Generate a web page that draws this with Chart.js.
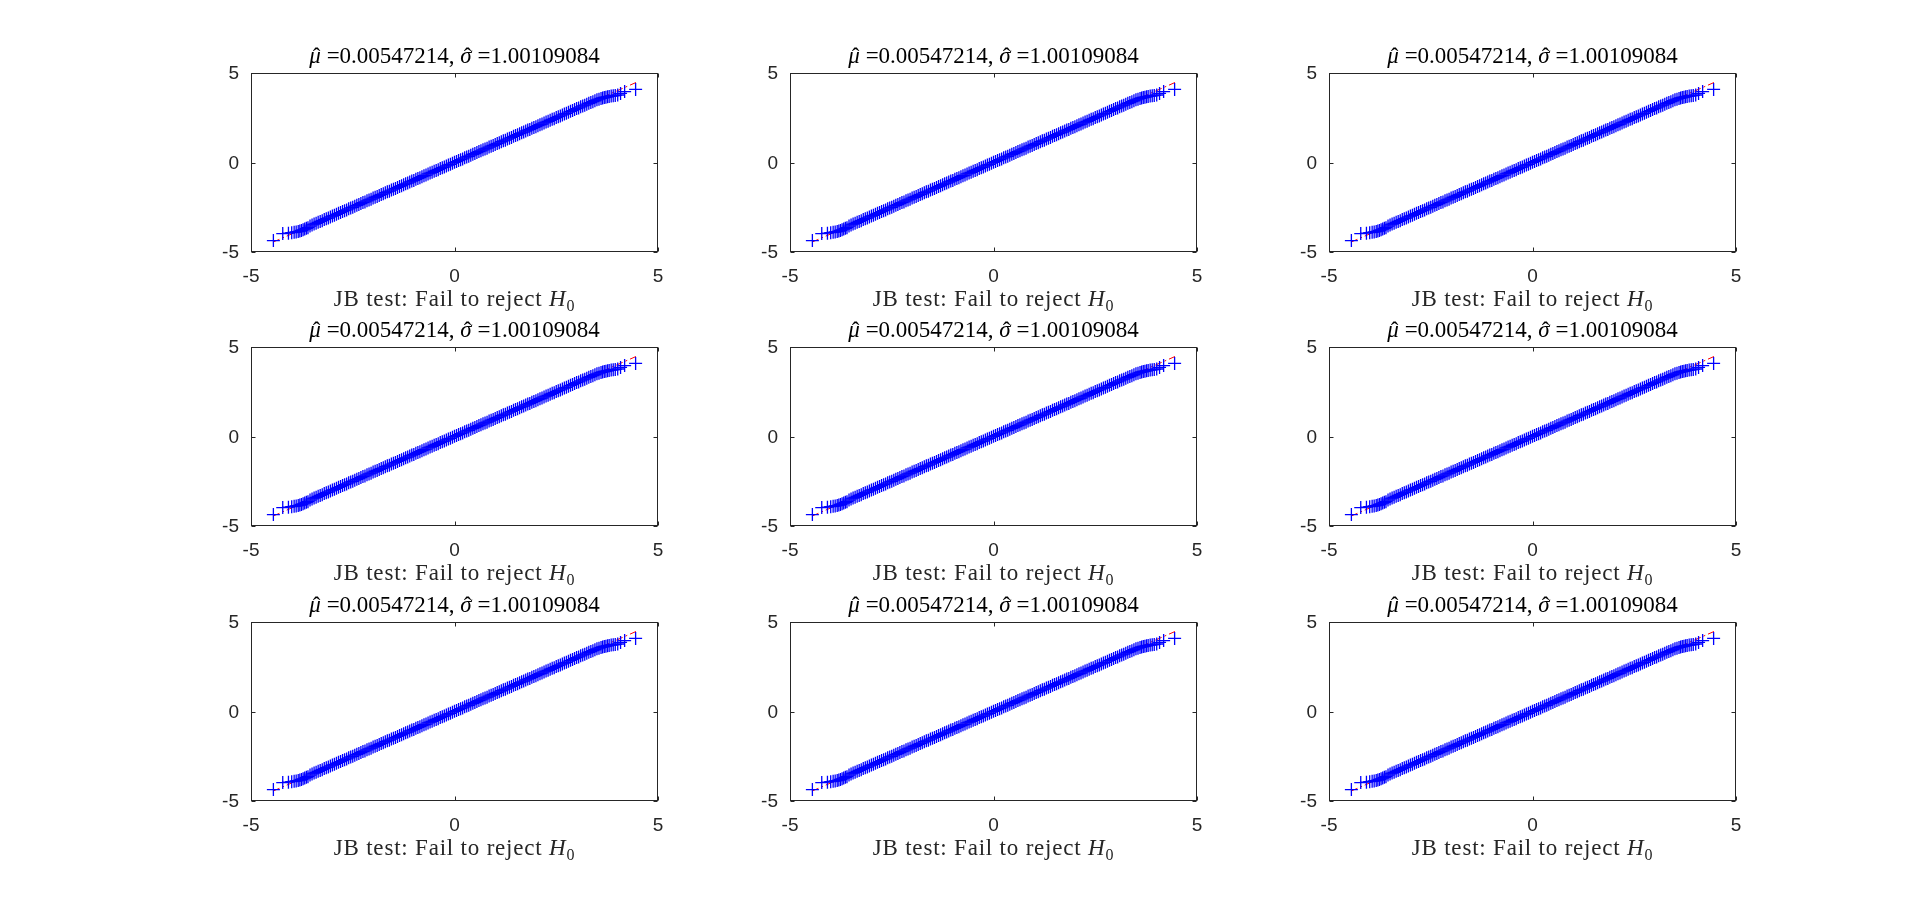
<!DOCTYPE html>
<html>
<head>
<meta charset="utf-8">
<script src="https://cdn.jsdelivr.net/npm/chart.js@4.4.1/dist/chart.umd.min.js"></script>
<style>
  html, body { margin: 0; padding: 0; background: #fff; }
  body { position: relative; width: 1920px; height: 915px; overflow: hidden; }
  canvas { position: absolute; }
</style>
</head>
<body>
<script>
// theoretical quantiles (x) and sorted sample values (y)
let theoQ = [
  -4.45,-4.22,-4.08,-4.00,-3.94,-3.89,-3.84,-3.80,-3.76,-3.72,-3.68,-3.64,-3.60,
  -3.55,-3.50,-3.45,-3.40,-3.35,-3.30,-3.25,-3.20,-3.15,-3.10,
  -3.05,-3.00,-2.95,-2.90,-2.85,-2.80,-2.75,-2.70,-2.65,-2.60,
  -2.55,-2.50,-2.45,-2.40,-2.35,-2.30,-2.25,-2.20,-2.15,-2.10,
  -2.05,-2.00,-1.95,-1.90,-1.85,-1.80,-1.75,-1.70,-1.65,-1.60,
  -1.55,-1.50,-1.45,-1.40,-1.35,-1.30,-1.25,-1.20,-1.15,-1.10,
  -1.05,-1.00,-0.95,-0.90,-0.85,-0.80,-0.75,-0.70,-0.65,-0.60,
  -0.55,-0.50,-0.45,-0.40,-0.35,-0.30,-0.25,-0.20,-0.15,-0.10,
  -0.05,0.00,0.05,0.10,0.15,0.20,0.25,0.30,0.35,0.40,
  0.45,0.50,0.55,0.60,0.65,0.70,0.75,0.80,0.85,0.90,
  0.95,1.00,1.05,1.10,1.15,1.20,1.25,1.30,1.35,1.40,
  1.45,1.50,1.55,1.60,1.65,1.70,1.75,1.80,1.85,1.90,
  1.95,2.00,2.05,2.10,2.15,2.20,2.25,2.30,2.35,2.40,
  2.45,2.50,2.55,2.60,2.65,2.70,2.75,2.80,2.85,2.90,
  2.95,3.00,3.05,3.10,3.15,3.20,3.25,3.30,3.35,3.40,
  3.45,3.50,3.55,
  3.60,3.64,3.68,3.72,3.76,3.80,3.85,3.90,3.95,4.01,4.08,4.18,4.45
];
let sampleQ = [
  -4.36,-3.97,-3.95,-3.92,-3.90,-3.88,-3.86,-3.83,-3.80,-3.76,-3.72,-3.68,-3.64,
  -3.55,-3.49,-3.44,-3.40,-3.34,-3.29,-3.25,-3.19,-3.14,-3.10,
  -3.04,-2.99,-2.95,-2.89,-2.84,-2.80,-2.74,-2.69,-2.65,-2.59,
  -2.54,-2.50,-2.44,-2.39,-2.35,-2.29,-2.24,-2.20,-2.14,-2.09,
  -2.05,-1.99,-1.94,-1.90,-1.84,-1.79,-1.75,-1.69,-1.64,-1.60,
  -1.54,-1.49,-1.45,-1.39,-1.34,-1.30,-1.24,-1.19,-1.15,-1.09,
  -1.04,-1.00,-0.94,-0.89,-0.85,-0.79,-0.74,-0.70,-0.64,-0.59,
  -0.55,-0.49,-0.44,-0.40,-0.34,-0.29,-0.25,-0.19,-0.14,-0.10,
  -0.04,0.01,0.05,0.11,0.16,0.20,0.26,0.31,0.35,0.41,
  0.46,0.50,0.56,0.61,0.65,0.71,0.76,0.80,0.86,0.91,
  0.95,1.01,1.06,1.10,1.16,1.21,1.25,1.31,1.36,1.40,
  1.46,1.51,1.55,1.61,1.66,1.70,1.76,1.81,1.85,1.91,
  1.96,2.00,2.06,2.11,2.15,2.21,2.26,2.30,2.36,2.41,
  2.45,2.51,2.56,2.60,2.66,2.71,2.75,2.81,2.86,2.90,
  2.96,3.01,3.05,3.11,3.16,3.20,3.26,3.31,3.35,3.40,
  3.45,3.50,3.54,
  3.58,3.61,3.63,3.65,3.67,3.69,3.71,3.73,3.75,3.77,3.86,3.96,4.08
];
// dash-dot reference line end points
let refX = [-4.46, 4.46];
let refY = [-4.45, 4.47];

let axisTicks = [-5, 0, 5];

// latex style title and x label, split into runs (italic / hat / subscript)
let titleParts = [
  {t: 'μ', it: true, hat: true},
  {t: ' =0.00547214, '},
  {t: 'σ', it: true, hat: true},
  {t: ' =1.00109084'}
];
let xLabelParts = [
  {t: 'JB test: Fail to reject '},
  {t: 'H', it: true},
  {t: '0', sub: true}
];

let boxLefts = [251, 790, 1329];
let boxTops = [73, 347, 622];

let texFamily = '"Liberation Serif", "Times New Roman", serif';
let texSize = 23;

function drawRich(ctx, parts, cx, baseY, color, spacing) {
  ctx.save();
  ctx.fillStyle = color;
  ctx.textBaseline = 'alphabetic';
  ctx.textAlign = 'left';
  if (spacing) ctx.letterSpacing = spacing + 'px';
  let fontFor = p => (p.it ? 'italic ' : '') + (p.sub ? Math.round(texSize * 0.7) : texSize) + 'px ' + texFamily;
  let widths = parts.map(p => { ctx.font = fontFor(p); return ctx.measureText(p.t).width; });
  let total = widths.reduce((s, w) => s + w, 0);
  let x = cx - total / 2;
  parts.forEach((p, i) => {
    ctx.font = fontFor(p);
    ctx.fillText(p.t, x, p.sub ? baseY + texSize * 0.22 : baseY);
    if (p.hat) {
      ctx.font = texSize + 'px ' + texFamily;
      ctx.textAlign = 'center';
      ctx.fillText('ˆ', x + widths[i] / 2 + 1.5, baseY + 1);
      ctx.textAlign = 'left';
    }
    x += widths[i];
  });
  ctx.restore();
}

// axes box with inward tick marks on all four sides, plus the latex texts
const boxPlugin = {
  id: 'boxPlugin',
  afterDatasetsDraw(chart) {
    let ctx = chart.ctx;
    let a = chart.chartArea;
    let xs = chart.scales.x, ys = chart.scales.y;
    let l = Math.round(a.left) + 0.5, r = Math.round(a.right) - 0.5;
    let t = Math.round(a.top) + 0.5, b = Math.round(a.bottom) - 0.5;
    ctx.save();
    ctx.strokeStyle = '#262626';
    ctx.lineWidth = 1;
    ctx.strokeRect(l, t, r - l, b - t);
    ctx.beginPath();
    xs.ticks.forEach(tk => {
      let px = Math.round(xs.getPixelForValue(tk.value)) + 0.5;
      ctx.moveTo(px, b); ctx.lineTo(px, b - 4);
      ctx.moveTo(px, t); ctx.lineTo(px, t + 4);
    });
    ys.ticks.forEach(tk => {
      let py = Math.round(ys.getPixelForValue(tk.value)) + 0.5;
      ctx.moveTo(l, py); ctx.lineTo(l + 4, py);
      ctx.moveTo(r, py); ctx.lineTo(r - 4, py);
    });
    ctx.stroke();
    ctx.restore();

    let cx = (a.left + a.right) / 2;
    drawRich(ctx, titleParts, cx, a.top - 10.5, '#000', 0);
    drawRich(ctx, xLabelParts, cx, a.bottom + 54, '#262626', 0.8);
  }
};

let points = theoQ.map((v, i) => ({x: v, y: sampleQ[i]}));
let refLine = refX.map((v, i) => ({x: v, y: refY[i]}));

let tickFont = {family: '"Liberation Sans", Arial, sans-serif', size: 19};

for (let r = 0; r < 3; r++) {
  for (let c = 0; c < 3; c++) {
    let cv = document.createElement('canvas');
    cv.width = 497;
    cv.height = 286;
    cv.style.left = (boxLefts[c] - 60) + 'px';
    cv.style.top = (boxTops[r] - 40) + 'px';
    document.body.appendChild(cv);

    new Chart(cv.getContext('2d'), {
      type: 'scatter',
      data: {
        datasets: [{
          data: points,
          pointStyle: 'cross',
          pointRadius: 6.5,
          pointBorderWidth: 1.3,
          pointBorderColor: 'rgb(0, 0, 255)',
          pointBackgroundColor: 'rgb(0, 0, 255)'
        },
        {
          type: 'line',
          data: refLine,
          borderColor: 'rgb(255, 0, 0)',
          borderWidth: 1,
          borderDash: [7, 3, 2, 3],
          pointRadius: 0,
          fill: false
        }]
      },
      options: {
        responsive: false,
        animation: false,
        events: [],
        layout: {padding: {left: 0, right: 30, top: 40, bottom: 0}},
        plugins: {
          legend: {display: false},
          tooltip: {enabled: false}
        },
        scales: {
          x: {
            type: 'linear',
            min: -5, max: 5,
            afterBuildTicks: s => { s.ticks = axisTicks.map(v => ({value: v})); },
            ticks: {font: tickFont, color: '#262626', padding: 13, maxRotation: 0},
            grid: {display: false, drawTicks: false},
            border: {display: false},
            afterFit: s => { s.height = 67; }
          },
          y: {
            type: 'linear',
            min: -5, max: 5,
            afterBuildTicks: s => { s.ticks = axisTicks.map(v => ({value: v})); },
            ticks: {font: tickFont, color: '#262626', padding: 12, labelOffset: 1},
            grid: {display: false, drawTicks: false},
            border: {display: false},
            afterFit: s => { s.width = 60; }
          }
        }
      },
      plugins: [boxPlugin]
    });
  }
}
</script>
</body>
</html>
